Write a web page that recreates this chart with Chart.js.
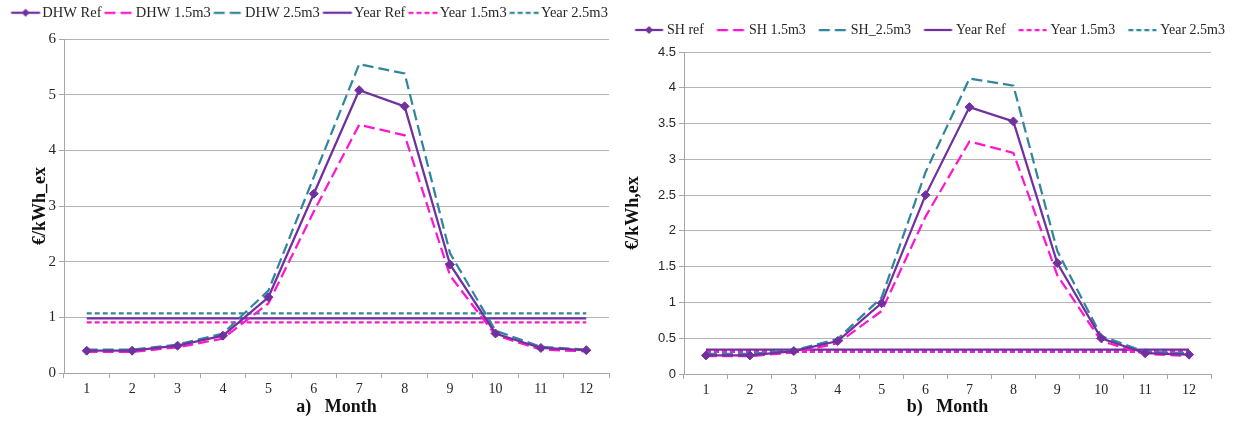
<!DOCTYPE html>
<html>
<head>
<meta charset="utf-8">
<title>Exergy cost per month</title>
<script src="https://cdn.jsdelivr.net/npm/chart.js@4.4.1/dist/chart.umd.min.js"></script>
<style>
  body { margin: 0; background: #fff; }
  .wrap { display: flex; width: 1240px; height: 423px; }
  .panel { position: relative; width: 620px; height: 423px; }
</style>
</head>
<body>
<div class="wrap">
  <div class="panel"><canvas id="chart-dhw"></canvas></div>
  <div class="panel"><canvas id="chart-sh"></canvas></div>
</div>
<script>
// Categories shared by both panels
const months = ['1', '2', '3', '4', '5', '6', '7', '8', '9', '10', '11', '12'];

// a) DHW, €/kWh_ex
const dhwRef = [0.40, 0.40, 0.49, 0.67, 1.36, 3.22, 5.08, 4.79, 1.95, 0.71, 0.45, 0.41];
const dhw15 = [0.38, 0.38, 0.46, 0.62, 1.25, 2.90, 4.46, 4.27, 1.75, 0.68, 0.42, 0.39];
const dhw25 = [0.42, 0.42, 0.51, 0.71, 1.48, 3.52, 5.55, 5.38, 2.15, 0.76, 0.47, 0.42];
const dhwYearRef = [0.98, 0.98, 0.98, 0.98, 0.98, 0.98, 0.98, 0.98, 0.98, 0.98, 0.98, 0.98];
const dhwYear15 = [0.91, 0.91, 0.91, 0.91, 0.91, 0.91, 0.91, 0.91, 0.91, 0.91, 0.91, 0.91];
const dhwYear25 = [1.07, 1.07, 1.07, 1.07, 1.07, 1.07, 1.07, 1.07, 1.07, 1.07, 1.07, 1.07];
const dhwTicks = [0, 1, 2, 3, 4, 5, 6];

// b) SH, €/kWh,ex
const shRef = [0.26, 0.26, 0.32, 0.46, 0.99, 2.50, 3.73, 3.53, 1.55, 0.50, 0.29, 0.27];
const sh15 = [0.25, 0.25, 0.30, 0.43, 0.88, 2.20, 3.25, 3.09, 1.38, 0.46, 0.28, 0.25];
const sh25 = [0.28, 0.28, 0.33, 0.49, 1.07, 2.82, 4.13, 4.03, 1.72, 0.53, 0.31, 0.29];
const shYearRef = [0.34, 0.34, 0.34, 0.34, 0.34, 0.34, 0.34, 0.34, 0.34, 0.34, 0.34, 0.34];
const shYear15 = [0.31, 0.31, 0.31, 0.31, 0.31, 0.31, 0.31, 0.31, 0.31, 0.31, 0.31, 0.31];
const shYear25 = [0.32, 0.32, 0.32, 0.32, 0.32, 0.32, 0.32, 0.32, 0.32, 0.32, 0.32, 0.32];
const shTicks = [0, 0.5, 1, 1.5, 2, 2.5, 3, 3.5, 4, 4.5];

const PURPLE = '#7030a0';
const MAGENTA = '#ff17cf';
const TEAL = '#31869b';
const GRID = '#b4b4b4';
const AXIS = '#a6a6a6';
const TEXT = '#262626';
const SERIF = '"Liberation Serif", "Times New Roman", serif';
const SANS = '"Liberation Sans", Arial, sans-serif';

const LONG_DASH = [11, 5];
const SHORT_DASH = [5, 3];

/**
 * One line series in the Excel look of the original
 */
function series(label, data, color, dash, marker) {
  return {
    label,
    data,
    borderColor: color,
    backgroundColor: color,
    borderWidth: 2.25,
    borderDash: dash,
    pointStyle: 'rectRot',
    pointRadius: marker ? 4.5 : 0,
    pointBorderWidth: 1,
    tension: 0,
    fill: false
  };
}

/**
 * Small canvas with the line sample (and diamond) used as legend symbol
 */
function legendSymbol(ds, sym) {
  const half = Math.max(Math.abs(sym.from - sym.box / 2), Math.abs(sym.to - sym.box / 2));
  const c = document.createElement('canvas');
  c.width = Math.ceil(half) * 2 + 2;
  c.height = 12;
  const g = c.getContext('2d');
  const off = c.width / 2 - sym.box / 2;
  g.strokeStyle = ds.borderColor;
  g.lineWidth = ds.borderWidth;
  g.setLineDash(ds.borderDash || []);
  g.beginPath();
  g.moveTo(sym.from + off, 6);
  g.lineTo(sym.to + off, 6);
  g.stroke();
  if (ds.pointRadius > 0) {
    const cx = (sym.from + sym.to) / 2 + off;
    const r = 4;
    g.setLineDash([]);
    g.fillStyle = ds.borderColor;
    g.beginPath();
    g.moveTo(cx, 6 - r);
    g.lineTo(cx + r, 6);
    g.lineTo(cx, 6 + r);
    g.lineTo(cx - r, 6);
    g.closePath();
    g.fill();
  }
  return c;
}

/**
 * Build one panel of the figure
 */
function buildPanel(canvasId, cfg) {
  const ctx = document.getElementById(canvasId);
  return new Chart(ctx, {
    type: 'line',
    data: { labels: months, datasets: cfg.datasets },
    options: {
      responsive: true,
      maintainAspectRatio: false,
      animation: false,
      devicePixelRatio: 1,
      layout: { padding: { top: cfg.legendTop, left: 0, right: 0, bottom: 0 } },
      plugins: {
        tooltip: { enabled: false },
        // empty title used as a gap between legend and plot area
        title: {
          display: true,
          text: '',
          weight: 500,
          font: { size: 1, lineHeight: 1 },
          padding: { top: 0, bottom: cfg.legendGap }
        },
        legend: {
          position: 'top',
          labels: {
            usePointStyle: true,
            pointStyleWidth: cfg.sym.box,
            padding: cfg.legendPadding,
            color: TEXT,
            font: { family: SERIF, size: cfg.legendFont },
            generateLabels: chart => chart.data.datasets.map((ds, i) => ({
              text: ds.label,
              datasetIndex: i,
              hidden: false,
              fontColor: TEXT,
              fillStyle: ds.borderColor,
              strokeStyle: ds.borderColor,
              lineWidth: 0,
              pointStyle: legendSymbol(ds, cfg.sym)
            }))
          }
        }
      },
      scales: {
        x: {
          offset: true,
          grid: { display: true, drawOnChartArea: false, offset: true, tickLength: 5, color: AXIS },
          border: { color: AXIS },
          ticks: { font: { family: SERIF, size: 14 }, color: TEXT, padding: 3, maxRotation: 0 },
          title: {
            display: true,
            text: cfg.xTitle,
            color: '#111',
            font: { family: SERIF, size: 18, weight: 'bold' },
            padding: { top: 0, bottom: 5 }
          },
          afterFit: scale => {
            scale.height = cfg.xHeight;
            scale.paddingRight = cfg.rightGap;
          }
        },
        y: {
          min: cfg.yTicks[0],
          max: cfg.yTicks[cfg.yTicks.length - 1],
          afterBuildTicks: scale => {
            scale.ticks = cfg.yTicks.map(v => ({ value: v }));
          },
          grid: { color: GRID, tickLength: 5, tickColor: AXIS },
          border: { color: AXIS },
          ticks: { font: cfg.yTickFont, color: TEXT, padding: 3, callback: v => String(v) },
          title: {
            display: true,
            text: cfg.yTitle,
            color: '#111',
            font: { family: SERIF, size: 18, weight: 'bold' },
            padding: { top: cfg.yTitleGap, bottom: 0 }
          },
          afterFit: scale => {
            scale.width = 64;
            scale.paddingTop = cfg.plotTop;
          }
        }
      }
    }
  });
}

document.addEventListener('DOMContentLoaded', () => {
  buildPanel('chart-dhw', {
    datasets: [
      series('DHW Ref', dhwRef, PURPLE, [], true),
      series('DHW 1.5m3', dhw15, MAGENTA, LONG_DASH, false),
      series('DHW 2.5m3', dhw25, TEAL, LONG_DASH, false),
      series('Year Ref', dhwYearRef, PURPLE, [], false),
      series('Year 1.5m3', dhwYear15, MAGENTA, SHORT_DASH, false),
      series('Year 2.5m3', dhwYear25, TEAL, SHORT_DASH, false)
    ],
    yTicks: dhwTicks,
    yTickFont: { family: SERIF, size: 15 },
    yTitle: '€/kWh_ex',
    yTitleGap: 30,
    xTitle: 'a)   Month',
    xHeight: 50,
    plotTop: 39,
    rightGap: 11,
    legendTop: -2,
    legendGap: 8,
    legendPadding: 4,
    legendFont: 14.5,
    sym: { box: 23, from: -1, to: 28 }
  });

  buildPanel('chart-sh', {
    datasets: [
      series('SH ref', shRef, PURPLE, [], true),
      series('SH 1.5m3', sh15, MAGENTA, LONG_DASH, false),
      series('SH_2.5m3', sh25, TEAL, LONG_DASH, false),
      series('Year Ref', shYearRef, PURPLE, [], false),
      series('Year 1.5m3', shYear15, MAGENTA, SHORT_DASH, false),
      series('Year 2.5m3', shYear25, TEAL, SHORT_DASH, false)
    ],
    yTicks: shTicks,
    yTickFont: { family: SANS, size: 13 },
    yTitle: '€/kWh,ex',
    yTitleGap: 3,
    xTitle: 'b)   Month',
    xHeight: 49,
    plotTop: 52,
    rightGap: 29,
    legendTop: 6,
    legendGap: 4,
    legendPadding: 13,
    legendFont: 14,
    sym: { box: 25, from: 0, to: 28 }
  });
});
</script>
</body>
</html>
